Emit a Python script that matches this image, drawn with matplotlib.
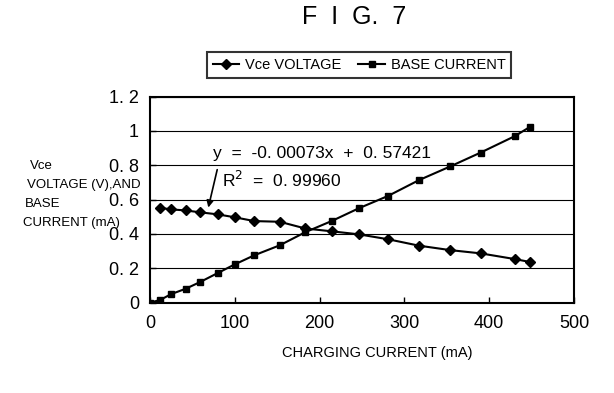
import matplotlib
matplotlib.use("Agg")
import matplotlib.pyplot as plt

plt.rcParams['font.family'] = ['Liberation Sans', 'DejaVu Sans']

# Data
vce_x = [12, 25, 42, 59, 80, 100, 123, 153, 183, 215, 246, 281, 317, 354, 390, 430, 448]
vce_y = [0.552, 0.543, 0.537, 0.526, 0.514, 0.497, 0.475, 0.471, 0.432, 0.415, 0.398, 0.369, 0.332, 0.306, 0.287, 0.254, 0.237]
base_x = [0, 12, 25, 42, 59, 80, 100, 123, 153, 183, 215, 246, 281, 317, 354, 390, 430, 448]
base_y = [0.0, 0.016, 0.05, 0.081, 0.12, 0.173, 0.223, 0.276, 0.334, 0.41, 0.477, 0.549, 0.622, 0.713, 0.793, 0.874, 0.969, 1.023]
x_ticks = [0, 100, 200, 300, 400, 500]
y_ticks = [0, 0.2, 0.4, 0.6, 0.8, 1.0, 1.2]
y_ticklabels = ["0", "0. 2", "0. 4", "0. 6", "0. 8", "1", "1. 2"]

fig = plt.figure(figsize=(6.14, 3.93), dpi=100)
ax = fig.add_axes([0.2443, 0.2298, 0.6906, 0.5246])

ax.plot(vce_x, vce_y, color='black', lw=1.5, marker='D', ms=5, label='Vce VOLTAGE')
ax.plot(base_x, base_y, color='black', lw=1.5, marker='s', ms=4.5, label='BASE CURRENT')

ax.set_xlim(0, 500)
ax.set_ylim(0, 1.2)
ax.set_xticks(x_ticks)
ax.set_xticklabels([str(t) for t in x_ticks], fontsize=13)
ax.set_yticks(y_ticks)
ax.set_yticklabels(y_ticklabels, fontsize=13)
ax.tick_params(direction='in', length=4, width=1)
ax.tick_params(axis='x', pad=9)
ax.tick_params(axis='y', pad=8)
ax.yaxis.grid(True, color='black', lw=0.8)
ax.set_axisbelow(True)
for s in ax.spines.values():
    s.set_linewidth(1.5)

fig.text(377 / 614, 1 - 353 / 393, "CHARGING CURRENT (mA)", fontsize=10.5, ha='center', va='center')

ylab_lines = [("Vce", 30, 166), ("VOLTAGE (V),AND", 27, 185), ("BASE", 25, 204), ("CURRENT (mA)", 23, 223)]
for txt, px, py in ylab_lines:
    fig.text(px / 614, 1 - py / 393, txt, fontsize=9.5, ha='left', va='center')

ax.text(74, 0.87, "y  =  -0. 00073x  +  0. 57421", fontsize=12.5, ha='left', va='center')
ax.text(85, 0.714, "R$^2$  =  0. 99960", fontsize=12.5, ha='left', va='center')
ax.annotate("", xy=(68, 0.538), xytext=(80, 0.79),
            arrowprops=dict(arrowstyle='-|>', color='black', lw=1.2, mutation_scale=10))

leg = fig.legend(loc='center', bbox_to_anchor=(359 / 614, 1 - 65 / 393), ncol=2,
                 fontsize=10.5, frameon=True, fancybox=False, edgecolor='black',
                 handlelength=1.8, handletextpad=0.4, columnspacing=1.2, borderpad=0.4)
leg.get_frame().set_linewidth(1.5)

fig.text(354 / 614, 1 - 17 / 393, "F  I  G.  7", fontsize=18, ha='center', va='center')

fig.savefig("out.png", dpi=100)
